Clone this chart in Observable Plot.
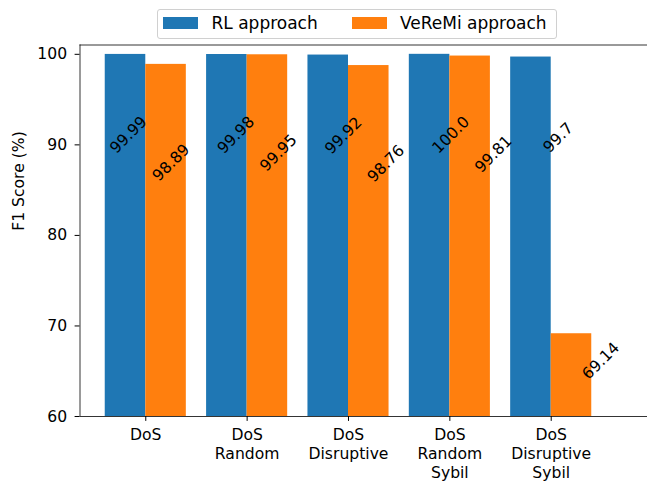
<!DOCTYPE html>
<html>
<head>
<meta charset="utf-8">
<script src="https://cdn.jsdelivr.net/npm/d3@7"></script>
<script src="https://cdn.jsdelivr.net/npm/@observablehq/plot@0.6"></script>
<style>
  html, body { margin: 0; padding: 0; background: #fff; }
  #wrap { position: relative; width: 647px; height: 481px; font-family: "DejaVu Sans", sans-serif; }
  #chart { position: absolute; left: 0; top: 0; }
  #legend { position: absolute; left: 157px; top: 9px; width: 398px; height: 28px;
    border: 1px solid #d0d0d0; border-radius: 3px; background: #fff; font-size: 17px; color: #000; }
  .sw { position: absolute; top: 7px; width: 35px; height: 12px; }
  .lt { position: absolute; top: 4px; line-height: 18px; white-space: nowrap; }
</style>
</head>
<body>
<div id="wrap">
  <div id="chart"></div>
  <div id="legend"></div>
</div>
<script>
const categories = ["DoS", "DoS\nRandom", "DoS\nDisruptive", "DoS\nRandom\nSybil", "DoS\nDisruptive\nSybil"];
const rlValues = [99.99, 99.98, 99.92, 100.0, 99.7];
const veremiValues = [98.89, 99.95, 98.76, 99.81, 69.14];
const seriesNames = ["RL approach", "VeReMi approach"];
const seriesColors = ["#1f77b4", "#ff7f0e"];
const yTicks = [60, 70, 80, 90, 100];

const yMin = 60, yMax = 101.03;
const xMin = -0.649, xMax = 4.95;
const FS = 15.6;

const rows = [];
categories.forEach((c, i) => {
  rows.push({i, series: 0, value: rlValues[i]});
  rows.push({i, series: 1, value: veremiValues[i]});
});
const fmt = v => Number.isInteger(v) ? v.toFixed(1) : String(v);

const chart = Plot.plot({
  width: 647,
  height: 481,
  marginLeft: 79.5,
  marginRight: 0,
  marginTop: 44.5,
  marginBottom: 65,
  style: {fontFamily: "DejaVu Sans, sans-serif", fontSize: FS + "px", color: "#000", background: "transparent"},
  x: {type: "linear", domain: [xMin, xMax]},
  y: {domain: [yMin, yMax]},
  marks: [
    Plot.rect(rows, {
      x1: d => d.i + (d.series === 0 ? -0.4 : 0),
      x2: d => d.i + (d.series === 0 ? 0 : 0.4),
      y1: yMin,
      y2: "value",
      fill: d => seriesColors[d.series]
    }),
    Plot.text(rows, {
      x: d => d.i * 1.06 + (d.series === 0 ? -0.17 : 0.25),
      y: d => d.value - (d.series === 0 ? 8.9 : (d.value < 80 ? 3.0 : 10.85)),
      text: d => fmt(d.value),
      rotate: -45,
      fontSize: FS,
      fill: "#000"
    }),
    Plot.ruleY([yMin, yMax], {stroke: "#000", strokeWidth: 0.8}),
    Plot.ruleX([xMin], {stroke: "#000", strokeWidth: 0.8}),
    Plot.axisX({ticks: d3.range(categories.length), tickFormat: i => categories[i],
      tickSize: 4.9, tickPadding: 5.5, lineHeight: 1.22, fontSize: FS, label: null}),
    Plot.axisY({ticks: yTicks, tickSize: 4.9, tickPadding: 8, fontSize: FS, label: null}),
    Plot.text(["F1 Score (%)"], {frameAnchor: "left", rotate: -90, dx: -61, fontSize: FS, fill: "#000"})
  ]
});
document.getElementById("chart").appendChild(chart);

const legend = document.getElementById("legend");
const swX = [5, 194];
const txX = [53.5, 242];
seriesNames.forEach((n, k) => {
  const s = document.createElement("div");
  s.className = "sw"; s.style.left = swX[k] + "px"; s.style.background = seriesColors[k];
  legend.appendChild(s);
  const t = document.createElement("div");
  t.className = "lt"; t.style.left = txX[k] + "px"; t.textContent = n;
  legend.appendChild(t);
});
</script>
</body>
</html>
